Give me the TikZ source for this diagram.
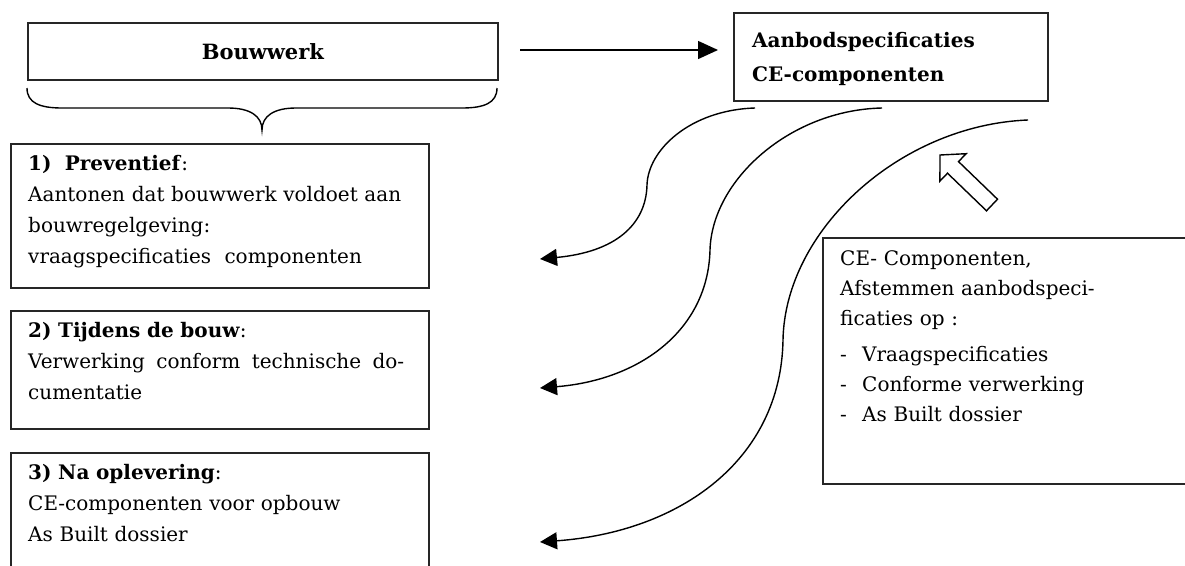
\documentclass[tikz,border=0pt]{standalone}
\usepackage{fontspec}
\setmainfont{DejaVu Serif}
\usetikzlibrary{arrows.meta}
\begin{document}
\begin{tikzpicture}[x=1pt,y=-1pt,
  box/.style={draw=black!85, line width=1.7pt, anchor=north west, inner sep=0pt},
  txt/.style={anchor=north west, inner sep=0pt, text width=420pt, align=left,
              font=\fontsize{20}{31}\selectfont},
  flow/.style={line width=1.4pt, -{Triangle[length=17pt,width=17pt]}},
  thin/.style={line width=1.4pt},
]
\useasboundingbox (0,0) rectangle (1185,565);
\clip (0,0) rectangle (1185,565);

% top boxes
\node[box, minimum width=470pt, minimum height=57pt] (bw) at (27,22) {};
\node[font=\bfseries\fontsize{21}{28}\selectfont] (bwt) at (bw.center) {Bouwwerk};

\node[box, minimum width=314pt, minimum height=88pt] (ab) at (733,12) {};
\node[txt, font=\bfseries\fontsize{20}{34}\selectfont] (abt) at (752,32)
  {Aanbodspecificaties\\CE-componenten};

% brace under Bouwwerk
\draw[thin] (27,88) .. controls (27,103) and (40,108) .. (62,108) -- (228,108)
  .. controls (250,108) and (262,116) .. (262,130)
  .. controls (262,116) and (274,108) .. (296,108) -- (462,108)
  .. controls (484,108) and (497,103) .. (497,88);

% horizontal arrow
\coordinate (hs) at (520,50);
\coordinate (he) at (718,50);
\draw[line width=1.4pt, -{Triangle[length=20pt,width=18pt]}] (hs) -- (he);

% left boxes
\node[box, minimum width=418pt, minimum height=144pt] (b1) at (10,143) {};
\node[txt] (b1t) at (28,155)
  {\textbf{1)\ \ Preventief}:\\
   Aantonen dat bouwwerk voldoet aan\\
   bouwregelgeving:\\
   vraagspecificaties\ \ componenten};

\node[box, minimum width=418pt, minimum height=118pt] (b2) at (10,310) {};
\node[txt] (b2t) at (28,322)
  {\textbf{2) Tijdens de bouw}:\\
   \makebox[376pt][s]{Verwerking\hfill conform\hfill technische\hfill do-}\\
   cumentatie};

\node[box, minimum width=418pt, minimum height=140pt] (b3) at (10,452) {};
\node[txt] (b3t) at (28,464)
  {\textbf{3) Na oplevering}:\\
   CE-componenten voor opbouw\\
   As Built dossier};

% right box
\node[box, minimum width=380pt, minimum height=246pt] (rb) at (822,237) {};
\node[txt, font=\fontsize{20}{30}\selectfont] (rbt) at (840,250)
  {CE- Componenten,\\
   Afstemmen aanbodspeci-\\
   ficaties op :\\[6pt]
   \makebox[22pt][l]{-}Vraagspecificaties\\
   \makebox[22pt][l]{-}Conforme verwerking\\
   \makebox[22pt][l]{-}As Built dossier};

% curved arrows
\coordinate (sa) at (755,108);
\coordinate (sb) at (882,108);
\coordinate (sc) at (1028,120);
\coordinate (ea) at (540,259);
\coordinate (eb) at (540,388);
\coordinate (ec) at (540,542);
\draw[flow] (sa) .. controls (690,110) and (648,150) .. (647,185)
  .. controls (646,225) and (615,252) .. (ea);
\draw[flow] (sb) .. controls (790,110) and (712,180) .. (710,250)
  .. controls (708,330) and (640,380) .. (eb);
\draw[flow] (sc) .. controls (900,125) and (785,230) .. (783,340)
  .. controls (781,460) and (680,532) .. (ec);

% hollow block arrow
\draw[line width=1.4pt, fill=white] (940,155) -- (966.1,153.7) -- (958.5,161.6)
  -- (997.5,199.2) -- (986.5,210.8) -- (947.5,173.2) -- (939.9,181.1) -- cycle;
\end{tikzpicture}
\end{document}
